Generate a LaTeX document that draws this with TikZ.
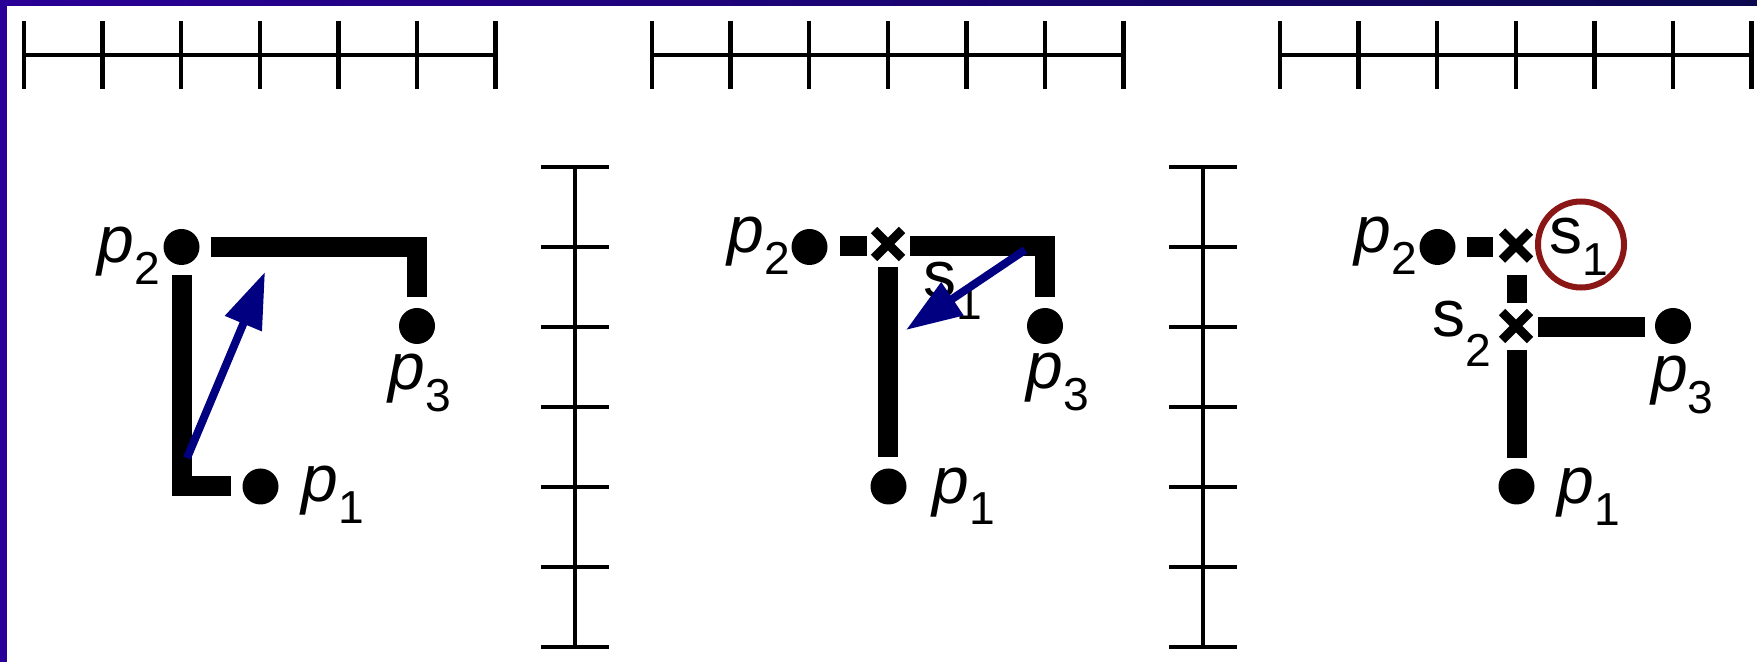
\documentclass[tikz,border=0pt]{standalone}
\usepackage{fontspec}
\setmainfont{Liberation Sans}
\usepackage{graphicx}
\usetikzlibrary{arrows.meta, shapes.misc}

\definecolor{framea}{RGB}{42,0,150}
\definecolor{frameb}{RGB}{12,8,80}
\definecolor{vecblue}{RGB}{0,0,128}
\definecolor{ringred}{RGB}{139,22,22}

% nhãn có chỉ số dưới: p_1, s_2, ...
\newcommand{\lbl}[2]{#1\raisebox{-0.33em}{\scalebox{0.7}{#2}}}

\begin{document}
\begin{tikzpicture}[x=0.5pt, y=-0.5pt, line cap=butt, line join=miter]

	\tikzset{
		dot/.style={circle, fill=black, inner sep=0pt, minimum size=18pt},
		bar/.style={line width=10pt},
		ruler/.style={line width=2.25pt},
		xmark/.style={draw, cross out, line width=4.5pt, inner sep=0pt, minimum size=9.5pt},
		vec/.style={draw=vecblue, line width=4pt, -{Triangle[length=28pt, width=19pt]}},
		ring/.style={draw=ringred, line width=3pt},
		plab/.style={anchor=base west, inner sep=0pt, font=\fontsize{33}{36}\selectfont\itshape},
		slab/.style={anchor=base west, inner sep=0pt, font=\fontsize{33}{36}\selectfont}
	}

	% ----------------------------------------------------
	% NỀN VÀ KHUNG
	% ----------------------------------------------------
	\useasboundingbox (0,0) rectangle (1757,662);
	\fill[white] (0,0) rectangle (1757,662);
	\fill[framea] (0,0) rectangle (7.3,662);
	\shade[left color=framea, right color=frameb] (0,0) rectangle (1757,5.5);

	% ----------------------------------------------------
	% THƯỚC CHIA VẠCH
	% ----------------------------------------------------
	\foreach \k in {0,1,2} {
		\draw[ruler] (24+628*\k,55) -- (495.6+628*\k,55);
		\foreach \i in {0,...,6}
			\draw[ruler] (24+628*\k+78.6*\i,21) -- (24+628*\k+78.6*\i,89);
	}
	\foreach \k in {0,1} {
		\draw[ruler] (575+628*\k,167) -- (575+628*\k,647);
		\foreach \j in {0,...,6}
			\draw[ruler] (541+628*\k,167+80*\j) -- (609+628*\k,167+80*\j);
	}

	% ----------------------------------------------------
	% HÌNH 1
	% ----------------------------------------------------
	\node[dot] (P2a) at (181.5,247) {};
	\node[dot] (P3a) at (417,326) {};
	\node[dot] (P1a) at (260.5,486.5) {};

	\coordinate (T1a) at (211,247);
	\coordinate (K1a) at (417,247);
	\coordinate (E1a) at (417,297);
	\draw[bar] (T1a) -- (K1a) -- (E1a);

	\coordinate (T2a) at (182,275);
	\coordinate (K2a) at (182,486);
	\coordinate (E2a) at (231,486);
	\draw[bar] (T2a) -- (K2a) -- (E2a);

	\node[plab] (Lp2a) at (97,263) {\lbl{p}{\upshape 2}};
	\node[plab] (Lp3a) at (388,390) {\lbl{p}{\upshape 3}};
	\node[plab] (Lp1a) at (301,502) {\lbl{p}{\upshape 1}};

	\coordinate (Va) at (187,458);
	\coordinate (Wa) at (265,272);
	\draw[vec] (Va) -- (Wa);

	% ----------------------------------------------------
	% HÌNH 2
	% ----------------------------------------------------
	\begin{scope}[shift={(628,0)}]
		\node[dot] (P2b) at (181.5,247) {};
		\node[dot] (P3b) at (417,326) {};
		\node[dot] (P1b) at (260.5,486.5) {};
		\node[xmark] (X1b) at (260,244) {};

		\coordinate (D1b) at (212,246);
		\coordinate (D2b) at (239,246);
		\draw[bar] (D1b) -- (D2b);

		\coordinate (T1b) at (282,246);
		\coordinate (K1b) at (417,246);
		\coordinate (E1b) at (417,297);
		\draw[bar] (T1b) -- (K1b) -- (E1b);

		\coordinate (T2b) at (259.5,267);
		\coordinate (E2b) at (259.5,457);
		\draw[bar] (T2b) -- (E2b);

		\node[plab] (Lp2b) at (99,253) {\lbl{p}{\upshape 2}};
		\node[plab] (Lp3b) at (398,389) {\lbl{p}{\upshape 3}};
		\node[plab] (Lp1b) at (304,503) {\lbl{p}{\upshape 1}};
		\node[slab] (Ls1b) at (295,298) {\lbl{s}{1}};

		\coordinate (Vb) at (397,250);
		\coordinate (Wb) at (278,330);
		\draw[vec] (Vb) -- (Wb);
	\end{scope}

	% ----------------------------------------------------
	% HÌNH 3
	% ----------------------------------------------------
	\begin{scope}[shift={(1256,0)}]
		\node[dot] (P2c) at (181.5,247) {};
		\node[dot] (P3c) at (417,326) {};
		\node[dot] (P1c) at (260.5,486.5) {};
		\node[xmark] (X1c) at (260,245.6) {};
		\node[xmark] (X2c) at (260,326) {};

		\coordinate (D1c) at (210.7,247);
		\coordinate (D2c) at (237.3,247);
		\draw[bar] (D1c) -- (D2c);

		\coordinate (D3c) at (260.7,275);
		\coordinate (D4c) at (260.7,303);
		\draw[bar] (D3c) -- (D4c);

		\coordinate (T1c) at (282,326.7);
		\coordinate (E1c) at (389,326.7);
		\draw[bar] (T1c) -- (E1c);

		\coordinate (T2c) at (260.7,350);
		\coordinate (E2c) at (260.7,458);
		\draw[bar] (T2c) -- (E2c);

		\node[plab] (Lp2c) at (98,253) {\lbl{p}{\upshape 2}};
		\node[plab] (Lp3c) at (394.7,392) {\lbl{p}{\upshape 3}};
		\node[plab] (Lp1c) at (301,504) {\lbl{p}{\upshape 1}};
		\node[slab] (Ls1c) at (293,253.3) {\lbl{s}{1}};
		\node[slab] (Ls2c) at (176,336.7) {s\raisebox{-0.45em}{\scalebox{0.7}{2}}};

		% vòng tròn đánh dấu s_1
		\coordinate (Oc) at (325,244.5);
		\draw[ring] (Oc) circle[radius=43];
	\end{scope}

\end{tikzpicture}
\end{document}
